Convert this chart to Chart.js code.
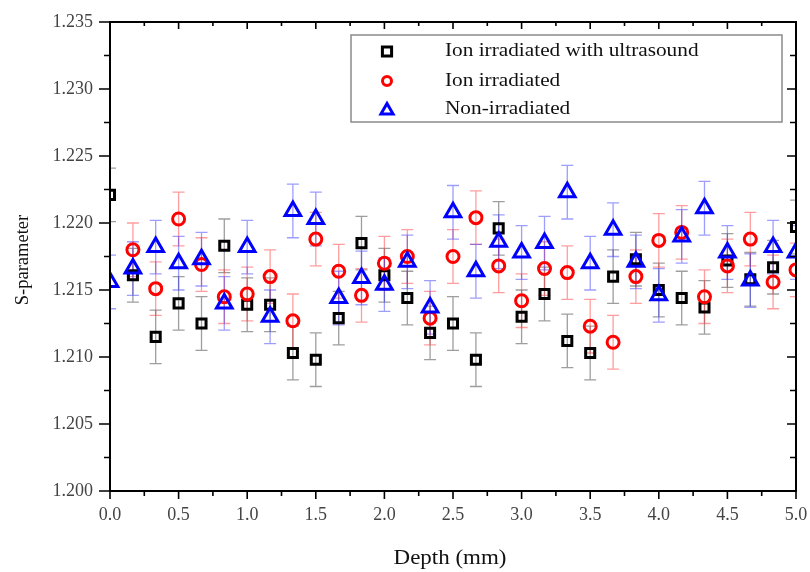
<!DOCTYPE html>
<html>
<head>
<meta charset="utf-8">
<script src="https://cdn.jsdelivr.net/npm/chart.js@4/dist/chart.umd.min.js"></script>
<style>
  html, body { margin: 0; padding: 0; background: #fff; }
  #wrap { width: 810px; height: 572px; }
</style>
</head>
<body>
<div id="wrap"><canvas id="sparam"></canvas></div>
<script>
// depth positions (mm)
const depth = [0.000, 0.167, 0.333, 0.500, 0.667, 0.833, 1.000, 1.167, 1.333, 1.500,
               1.667, 1.833, 2.000, 2.167, 2.333, 2.500, 2.667, 2.833, 3.000, 3.167,
               3.333, 3.500, 3.667, 3.833, 4.000, 4.167, 4.333, 4.500, 4.667, 4.833, 5.000];

const ionUltrasound = [1.2221, 1.2161, 1.2115, 1.2140, 1.2125, 1.2183, 1.2139, 1.2139, 1.2103, 1.2098,
                       1.2129, 1.2185, 1.2161, 1.2144, 1.2118, 1.2125, 1.2098, 1.2196, 1.2130, 1.2147,
                       1.2112, 1.2103, 1.2160, 1.2173, 1.2150, 1.2144, 1.2137, 1.2172, 1.2158, 1.2167, 1.2197];

const ionIrradiated = [null, 1.2180, 1.2151, 1.2203, 1.2169, 1.2145, 1.2147, 1.2160, 1.2127, 1.2188,
                       1.2164, 1.2146, 1.2170, 1.2175, 1.2129, 1.2175, 1.2204, 1.2168, 1.2142, 1.2166,
                       1.2163, 1.2123, 1.2111, 1.2160, 1.2187, 1.2193, 1.2145, 1.2168, 1.2188, 1.2156, 1.2165];

const nonIrradiated = [1.2156, 1.2166, 1.2182, 1.2170, 1.2173, 1.2140, 1.2182, 1.2130, 1.2209, 1.2203,
                       1.2144, 1.2159, 1.2154, 1.2171, 1.2137, 1.2208, 1.2164, 1.2186, 1.2178, 1.2185,
                       1.2223, 1.2170, 1.2195, 1.2171, 1.2146, 1.2190, 1.2211, 1.2178, 1.2157, 1.2182, 1.2178];

// half-width of the error bars
const sErr = 0.002;

const seriesNames = ['Ion irradiated with ultrasound', 'Ion irradiated', 'Non-irradiated'];

const serif = '"Liberation Serif", "Times New Roman", serif';

function toPoints(ys) {
  return depth.map((x, i) => ({ x: x, y: ys[i] }));
}

// text drawn a little wider than the font's natural width
function wideText(ctx, text, x, y, align, sx) {
  ctx.save();
  ctx.translate(x, y);
  ctx.scale(sx, 1);
  ctx.textAlign = align;
  ctx.textBaseline = 'middle';
  ctx.fillText(text, 0, 0);
  ctx.restore();
}

// error bars under the markers, plus frame, tick marks, titles and legend on top
const extras = {
  id: 'extras',
  beforeDatasetsDraw(chart) {
    const ctx = chart.ctx;
    const xs = chart.scales.x, ys = chart.scales.y;
    const a = chart.chartArea;
    ctx.save();
    ctx.beginPath();
    ctx.rect(a.left, a.top, a.right - a.left, a.bottom - a.top);
    ctx.clip();
    chart.data.datasets.forEach(ds => {
      ctx.strokeStyle = ds.errColor;
      ctx.lineWidth = 1.3;
      ds.data.forEach(p => {
        if (p.y === null) return;
        const px = xs.getPixelForValue(p.x);
        const top = ys.getPixelForValue(p.y + sErr);
        const bot = ys.getPixelForValue(p.y - sErr);
        ctx.beginPath();
        ctx.moveTo(px, top); ctx.lineTo(px, bot);
        ctx.moveTo(px - 6, top); ctx.lineTo(px + 6, top);
        ctx.moveTo(px - 6, bot); ctx.lineTo(px + 6, bot);
        ctx.stroke();
      });
    });
    ctx.restore();
  },
  afterDraw(chart) {
    const ctx = chart.ctx;
    const xs = chart.scales.x, ys = chart.scales.y;
    const a = chart.chartArea;
    ctx.save();
    ctx.strokeStyle = '#000';
    ctx.lineWidth = 2;
    ctx.strokeRect(a.left, a.top, a.right - a.left, a.bottom - a.top);

    ctx.lineWidth = 1.6;
    ctx.beginPath();
    // x ticks: outward at the bottom, inward at the top
    for (let k = 0; k <= 20; k++) {
      const v = k * 0.25;
      const px = xs.getPixelForValue(v);
      const major = k % 2 === 0;
      ctx.moveTo(px, a.bottom); ctx.lineTo(px, a.bottom + (major ? 8 : 5));
      ctx.moveTo(px, a.top); ctx.lineTo(px, a.top + (major ? 7 : 4));
    }
    // y ticks: outward on the left, inward on the right
    for (let k = 0; k <= 14; k++) {
      const v = 1.2 + k * 0.0025;
      const py = ys.getPixelForValue(v);
      const major = k % 2 === 0;
      ctx.moveTo(a.left, py); ctx.lineTo(a.left - (major ? 11 : 6), py);
      ctx.moveTo(a.right, py); ctx.lineTo(a.right - (major ? 9 : 6), py);
    }
    ctx.stroke();

    // axis titles
    ctx.fillStyle = '#111';
    ctx.font = '20.5px ' + serif;
    wideText(ctx, 'Depth (mm)', (a.left + a.right) / 2 - 3, 559, 'center', 1.12);
    ctx.save();
    ctx.translate(23, 260);
    ctx.rotate(-Math.PI / 2);
    ctx.font = '18.5px ' + serif;
    wideText(ctx, 'S-parameter', 0, 0, 'center', 1.0);
    ctx.restore();

    // legend box
    const lx = 351, ly = 35, lw = 431, lh = 87;
    ctx.fillStyle = '#fff';
    ctx.fillRect(lx, ly, lw, lh);
    ctx.strokeStyle = '#8a8a8a';
    ctx.lineWidth = 1.5;
    ctx.strokeRect(lx, ly, lw, lh);
    const rows = [51.5, 81, 109.5];
    const legendMarks = [
      { pointStyle: 'rect', radius: 6.5, borderWidth: 3 },
      { pointStyle: 'circle', radius: 4.5, borderWidth: 3 },
      { pointStyle: 'triangle', radius: 7, borderWidth: 3 }
    ];
    chart.data.datasets.forEach((ds, i) => {
      ctx.strokeStyle = ds.borderColor;
      ctx.fillStyle = 'rgba(0,0,0,0)';
      ctx.lineWidth = 3;
      Chart.helpers.drawPoint(ctx, Object.assign({ rotation: 0 }, legendMarks[i]), 387, rows[i] + (i === 2 ? 1 : 0));
      ctx.fillStyle = '#111';
      ctx.font = '19px ' + serif;
      wideText(ctx, seriesNames[i], 445, rows[i], 'left', 1.12);
    });
    ctx.restore();
  }
};

const ctx1 = document.getElementById('sparam').getContext('2d');
const sChart = new Chart(ctx1, {
  type: 'scatter',
  data: {
    datasets: [
      {
        label: seriesNames[0],
        data: toPoints(ionUltrasound),
        pointStyle: 'rect',
        pointRadius: 6.4,
        borderWidth: 3,
        borderColor: '#000000',
        backgroundColor: 'rgba(0,0,0,0)',
        errColor: 'rgba(40,40,40,0.45)',
        order: 3,
        clip: 0
      },
      {
        label: seriesNames[1],
        data: toPoints(ionIrradiated),
        pointStyle: 'circle',
        pointRadius: 6,
        borderWidth: 3,
        borderColor: '#ff0000',
        backgroundColor: 'rgba(0,0,0,0)',
        errColor: 'rgba(255,40,40,0.45)',
        order: 2,
        clip: 0
      },
      {
        label: seriesNames[2],
        data: toPoints(nonIrradiated),
        pointStyle: 'triangle',
        pointRadius: 9,
        borderWidth: 3,
        borderColor: '#0000ff',
        backgroundColor: 'rgba(0,0,0,0)',
        errColor: 'rgba(40,40,255,0.45)',
        order: 1,
        clip: 0
      }
    ]
  },
  options: {
    responsive: true,
    maintainAspectRatio: false,
    animation: false,
    layout: { padding: { top: 22, right: 14, left: 0, bottom: 0 } },
    plugins: {
      legend: { display: false },
      tooltip: { enabled: false }
    },
    scales: {
      x: {
        type: 'linear',
        min: 0,
        max: 5,
        border: { display: false },
        grid: { display: false, drawTicks: false },
        ticks: {
          stepSize: 0.5,
          padding: 13,
          color: '#444',
          font: { family: serif, size: 18 },
          callback: v => v.toFixed(1)
        },
        afterFit(scale) {
          scale.height = 81;
          scale.paddingLeft = 0;
          scale.paddingRight = 0;
        }
      },
      y: {
        min: 1.2,
        max: 1.235,
        border: { display: false },
        grid: { display: false, drawTicks: false },
        ticks: {
          stepSize: 0.005,
          padding: 17,
          color: '#444',
          font: { family: serif, size: 18 },
          callback: v => v.toFixed(3)
        },
        afterFit(scale) {
          scale.width = 110;
          scale.paddingTop = 0;
          scale.paddingBottom = 0;
        }
      }
    }
  },
  plugins: [extras]
});
</script>
</body>
</html>
